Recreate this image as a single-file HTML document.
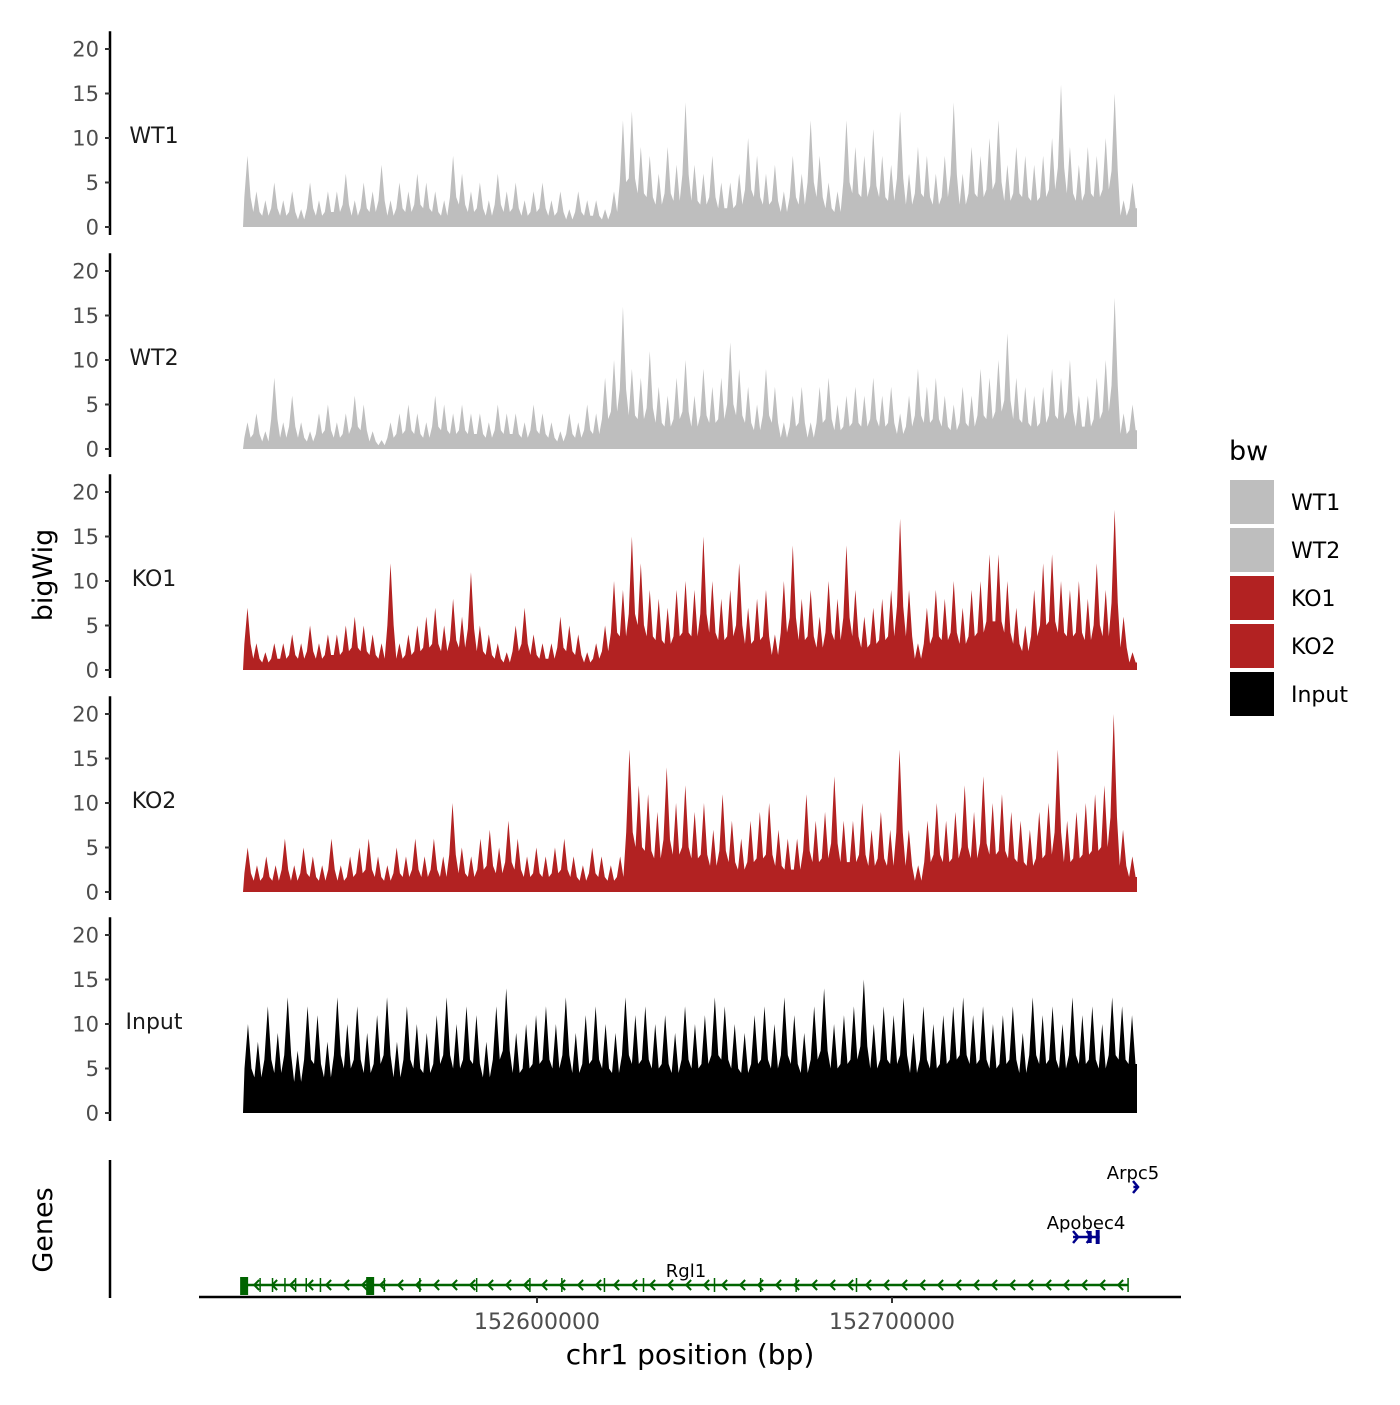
<!DOCTYPE html>
<html><head><meta charset="utf-8"><style>
body{margin:0;background:#fff;}
svg text{font-family:"DejaVu Sans","Liberation Sans",sans-serif;}
</style></head><body>
<svg id="c" width="1400" height="1400" xmlns="http://www.w3.org/2000/svg"></svg>
<script>
const trackNames=["WT1","WT2","KO1","KO2","Input"];
const trackColors=["#bebebe","#bebebe","#b22222","#b22222","#000000"];
const yTicks=[0,5,10,15,20];
const wt1=[8,4,3,5,3,4,2,5,3,4,4,6,3,5,4,7,3,5,4,6,5,4,3,8,6,4,5,3,6,4,5,3,4,5,3,4,2,4,3,3,2,4,12,13,9,8,6,9,7,14,7,6,8,5,5,6,10,8,6,7,4,8,6,12,8,5,4,12,9,8,11,8,7,13,6,9,8,6,8,14,6,9,8,10,12,7,9,8,7,8,10,16,9,7,9,8,10,15,3,5];
const wt2=[3,4,2,8,3,6,3,2,4,5,3,4,6,5,2,1,3,4,5,4,3,6,5,4,5,4,4,3,5,4,4,3,5,4,3,2,4,3,5,4,8,10,16,9,8,11,7,6,8,10,6,9,7,8,12,9,7,5,9,7,3,6,7,3,7,8,5,6,7,6,8,6,7,4,6,9,7,8,6,5,7,6,9,8,10,13,8,7,6,7,9,8,10,6,6,8,10,17,4,5];
const ko1=[7,3,2,3,3,4,3,5,3,4,4,5,6,5,4,3,12,3,4,5,6,7,5,8,6,11,5,4,3,2,5,7,4,3,3,6,5,4,2,3,5,10,9,15,12,9,8,7,9,10,9,15,10,8,9,12,7,8,9,4,10,14,8,9,6,10,8,14,9,6,7,8,9,17,9,3,7,9,8,10,7,9,10,13,13,10,7,5,9,12,13,10,9,10,8,12,9,18,6,2];
const ko2=[5,3,4,3,6,3,5,4,3,6,3,4,5,6,4,3,5,4,6,4,6,4,10,5,4,6,7,5,8,6,4,5,4,5,6,4,3,5,4,3,4,16,12,11,9,14,10,12,9,10,7,11,8,6,8,9,10,7,6,6,11,8,9,13,8,8,10,7,9,7,16,7,3,8,10,8,9,12,9,13,10,11,9,8,7,9,10,16,8,9,10,11,12,20,7,4];
const inputSig=[10,8,12,9,13,7,12,11,8,13,10,12,9,11,13,8,12,10,9,11,13,10,12,11,8,12,14,9,10,11,12,10,13,9,11,12,10,9,13,11,12,10,11,9,12,10,11,13,12,10,9,11,12,10,13,11,9,12,14,10,11,12,15,10,12,11,13,9,12,10,11,12,13,11,12,10,11,12,9,13,11,12,10,13,11,12,10,13,12,11];
const series=[wt1,wt2,ko1,ko2,inputSig];
const xTicks=[152600000,152700000];
const genomeRange=[152517183,152769014];
const geneNames=["Rgl1","Apobec4","Arpc5"];
const geneStarts=[152517500,152751000,152768000];
const geneEnds=[152766500,152758500,152769300];
const geneStrand=[-1,1,1];
const geneRows=[0,1,2];
const rgl1Exons=[152517500,152522000,152525500,152529000,152532000,152535000,152539000,152553000,152557000,152567000,152583000,152598000,152607000,152619000,152630000,152650000,152663000,152673000,152690000,152766500];

const svg=document.getElementById('c');const NS='http://www.w3.org/2000/svg';
function mk(t,a,p){const e=document.createElementNS(NS,t);for(const k in a)e.setAttribute(k,a[k]);(p||svg).appendChild(e);return e;}
const X0=243,X1=1137;
const gx=v=>X0+(v-genomeRange[0])/(genomeRange[1]-genomeRange[0])*(X1-X0);
const zeroY=[227,449,670,892,1113];const unit=8.9;
trackNames.forEach((nm,ti)=>{
  const g=mk('g',{});
  
  
  const y0=zeroY[ti];const yy=v=>y0-v*unit;
  const ax=mk('line',{x1:110,x2:110,y1:yy(22),y2:y0+8,stroke:'#000','stroke-width':2.5},g);
  
  
  yTicks.forEach(t=>{
    mk('line',{x1:105,x2:110,y1:yy(t),y2:yy(t),stroke:'#333','stroke-width':2},g);
    const tx=mk('text',{x:99,y:yy(t)+7.5,'text-anchor':'end','font-size':21,fill:'#4d4d4d'},g);tx.textContent=t;
    
    
  });
  const lb=mk('text',{x:154,y:yy(10)+5,'text-anchor':'middle','font-size':22,fill:'#1a1a1a'},g);lb.textContent=nm;
  
  
  const d=series[ti];const w=(X1-X0)/d.length;
  const lo=ti===4?0.5:0.42;
  let p='M'+X0+','+y0;
  d.forEach((v,i)=>{p+=' L'+(X0+w*i+w*0.15)+','+yy(v*lo)+' L'+(X0+w*(i+0.5))+','+yy(v)+' L'+(X0+w*i+w*0.85)+','+yy(v*lo);});
  p+=' L'+X1+','+yy(d[d.length-1]*lo)+' L'+X1+','+y0+' Z';
  const ar=mk('path',{d:p,fill:trackColors[ti]},g);
  
  
});
let t=mk('text',{x:52,y:575,'text-anchor':'middle','font-size':27,transform:'rotate(-90 52 575)'});t.textContent='bigWig';


t=mk('text',{x:52,y:1230,'text-anchor':'middle','font-size':27,transform:'rotate(-90 52 1230)'});t.textContent='Genes';


t=mk('text',{x:1229,y:460,'font-size':27});t.textContent='bw';


trackNames.forEach((nm,i)=>{
  const r=mk('rect',{x:1230,y:480+i*48,width:44,height:44,fill:trackColors[i]});
  
  
  const tt=mk('text',{x:1291,y:510+i*48,'font-size':22});tt.textContent=nm;
  
  
});
let l=mk('line',{x1:110,x2:110,y1:1160,y2:1298,stroke:'#000','stroke-width':2.5});


l=mk('line',{x1:199,x2:1181,y1:1297,y2:1297,stroke:'#000','stroke-width':2.5});


xTicks.forEach(v=>{
  mk('line',{x1:gx(v),x2:gx(v),y1:1297,y2:1303,stroke:'#333','stroke-width':2});
  const tt=mk('text',{x:gx(v),y:1329,'text-anchor':'middle','font-size':22,fill:'#4d4d4d'});tt.textContent=v;
  
  
});
t=mk('text',{x:690,y:1364,'text-anchor':'middle','font-size':28});t.textContent='chr1 position (bp)';


const rowY=[1285,1237,1187];const gcol=['#006400','#00008b','#00008b'];
geneNames.forEach((nm,i)=>{
  const g=mk('g',{});
  
  
  const y=rowY[geneRows[i]],x1=gx(geneStarts[i]),x2=gx(geneEnds[i]),c=gcol[i];
  mk('line',{x1:x1,x2:x2,y1:y,y2:y,stroke:c,'stroke-width':2.5},g);
  const step=18;
  if(i===0){
    for(let x=x1+10;x<x2-4;x+=step){
      mk('polyline',{points:(x+5)+','+(y-5)+' '+x+','+y+' '+(x+5)+','+(y+5),fill:'none',stroke:c,'stroke-width':2},g);
    }
  } else {
    const xs=i===1?[x1+5,x2-8]:[x2];
    xs.forEach(x=>mk('polyline',{points:(x-5)+','+(y-6)+' '+x+','+y+' '+(x-5)+','+(y+6),fill:'none',stroke:c,'stroke-width':2.5},g));
    if(i===1){mk('rect',{x:x2-12,y:y-6,width:4,height:12,fill:c},g);mk('rect',{x:x2-4,y:y-7,width:4,height:14,fill:c},g);}
  }
  const lx=nm==='Rgl1'?686:(nm==='Apobec4'?1086:1133);
  const lt=mk('text',{x:lx,y:y-8,'text-anchor':'middle','font-size':18},g);lt.textContent=nm;
});
rgl1Exons.forEach((v,i)=>{
  const x=gx(v);const big=(i===0||i===7);
  const e=mk('rect',{x:x-(big?4:0.75),y:big?1277:1278,width:big?8:1.5,height:big?18:14,fill:'#006400'});
  
  
});
</script>
</body></html>
